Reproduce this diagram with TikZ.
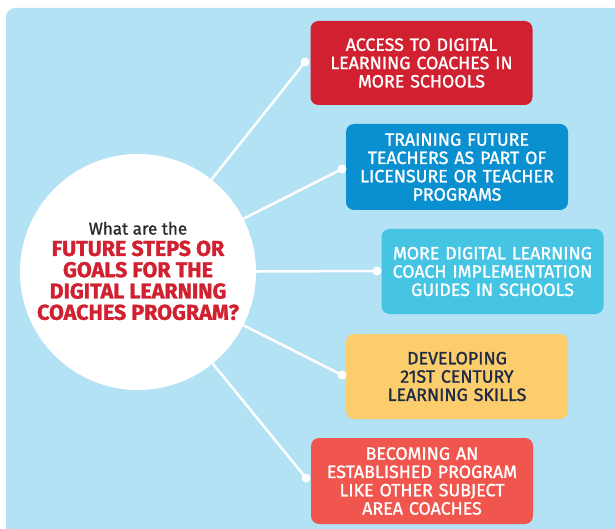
\documentclass[tikz,border=0pt]{standalone}
\usepackage{fontspec}
\setmainfont{Fira Sans}
\newfontfamily\boxfont{Fira Sans}[FakeBold=1.3]
\definecolor{skybg}{HTML}{B3E2F5}
\definecolor{goalred}{HTML}{D1202F}
\definecolor{goalblue}{HTML}{0A90D0}
\definecolor{goalcyan}{HTML}{45C4E4}
\definecolor{goalyellow}{HTML}{FCCD6D}
\definecolor{goalsalmon}{HTML}{F0564E}
\definecolor{navytext}{HTML}{1F2A44}
\definecolor{darkgrey}{HTML}{2B2B2B}
\tikzset{
  goalbox/.style={rounded corners=8pt, minimum width=222pt, minimum height=85pt,
    text width=215pt, align=center, inner sep=0pt, text=white,
    font=\boxfont\fontsize{17.8}{18.3}\selectfont},
  spoke/.style={draw=white, line width=2.5pt},
  knob/.style={fill=white, circle, minimum size=9pt, inner sep=0pt}
}
\begin{document}
\begin{tikzpicture}[x=1pt,y=-1pt]
\useasboundingbox (0,0) rectangle (615,529);
% backdrop panel
\fill[skybg, rounded corners=9pt] (6,8) rectangle (625,545);

% central question disc
\node (hub) [circle, fill=white, minimum size=236pt, inner sep=0pt] at (138,272) {};
\node (ask) [align=center, inner sep=0pt, text=darkgrey,
  font=\boxfont\fontsize{17}{21.3}\selectfont] at (138,271)
  {What are the\\
   \color{goalred}\bfseries\fontsize{21.5}{21.3}\selectfont FUTURE STEPS OR\\
   \color{goalred}\bfseries\fontsize{21.5}{21.3}\selectfont GOALS FOR THE\\
   \color{goalred}\bfseries\fontsize{21.5}{21.3}\selectfont DIGITAL LEARNING\\
   \color{goalred}\bfseries\fontsize{21.5}{21.3}\selectfont COACHES PROGRAM?};

% goal boxes
\node (g1) [goalbox, fill=goalred, minimum height=84pt] at (421.5,63)
  {ACCESS TO DIGITAL\\LEARNING COACHES IN\\MORE SCHOOLS};
\node (g2) [goalbox, fill=goalblue, minimum height=86pt] at (457,167)
  {TRAINING FUTURE\\TEACHERS AS PART OF\\LICENSURE OR TEACHER\\PROGRAMS};
\node (g3) [goalbox, fill=goalcyan] at (492.5,271.5)
  {MORE DIGITAL LEARNING\\COACH IMPLEMENTATION\\GUIDES IN SCHOOLS};
\node (g4) [goalbox, fill=goalyellow, text=navytext] at (457,376.5)
  {DEVELOPING\\21ST CENTURY\\LEARNING SKILLS};
\node (g5) [goalbox, fill=goalsalmon, minimum height=86pt] at (422,481)
  {BECOMING AN\\ESTABLISHED PROGRAM\\LIKE OTHER SUBJECT\\AREA COACHES};

% connector ends
\coordinate (k1) at (305,62);
\coordinate (k2) at (342,169);
\coordinate (k3) at (377,271);
\coordinate (k4) at (342,375);
\coordinate (k5) at (306,478);

% spokes from the disc to each box
\foreach \k in {k1,k2,k3,k4,k5}{
  \draw[spoke] (hub) -- (\k);
  \node[knob] at (\k) {};
}
\end{tikzpicture}
\end{document}
